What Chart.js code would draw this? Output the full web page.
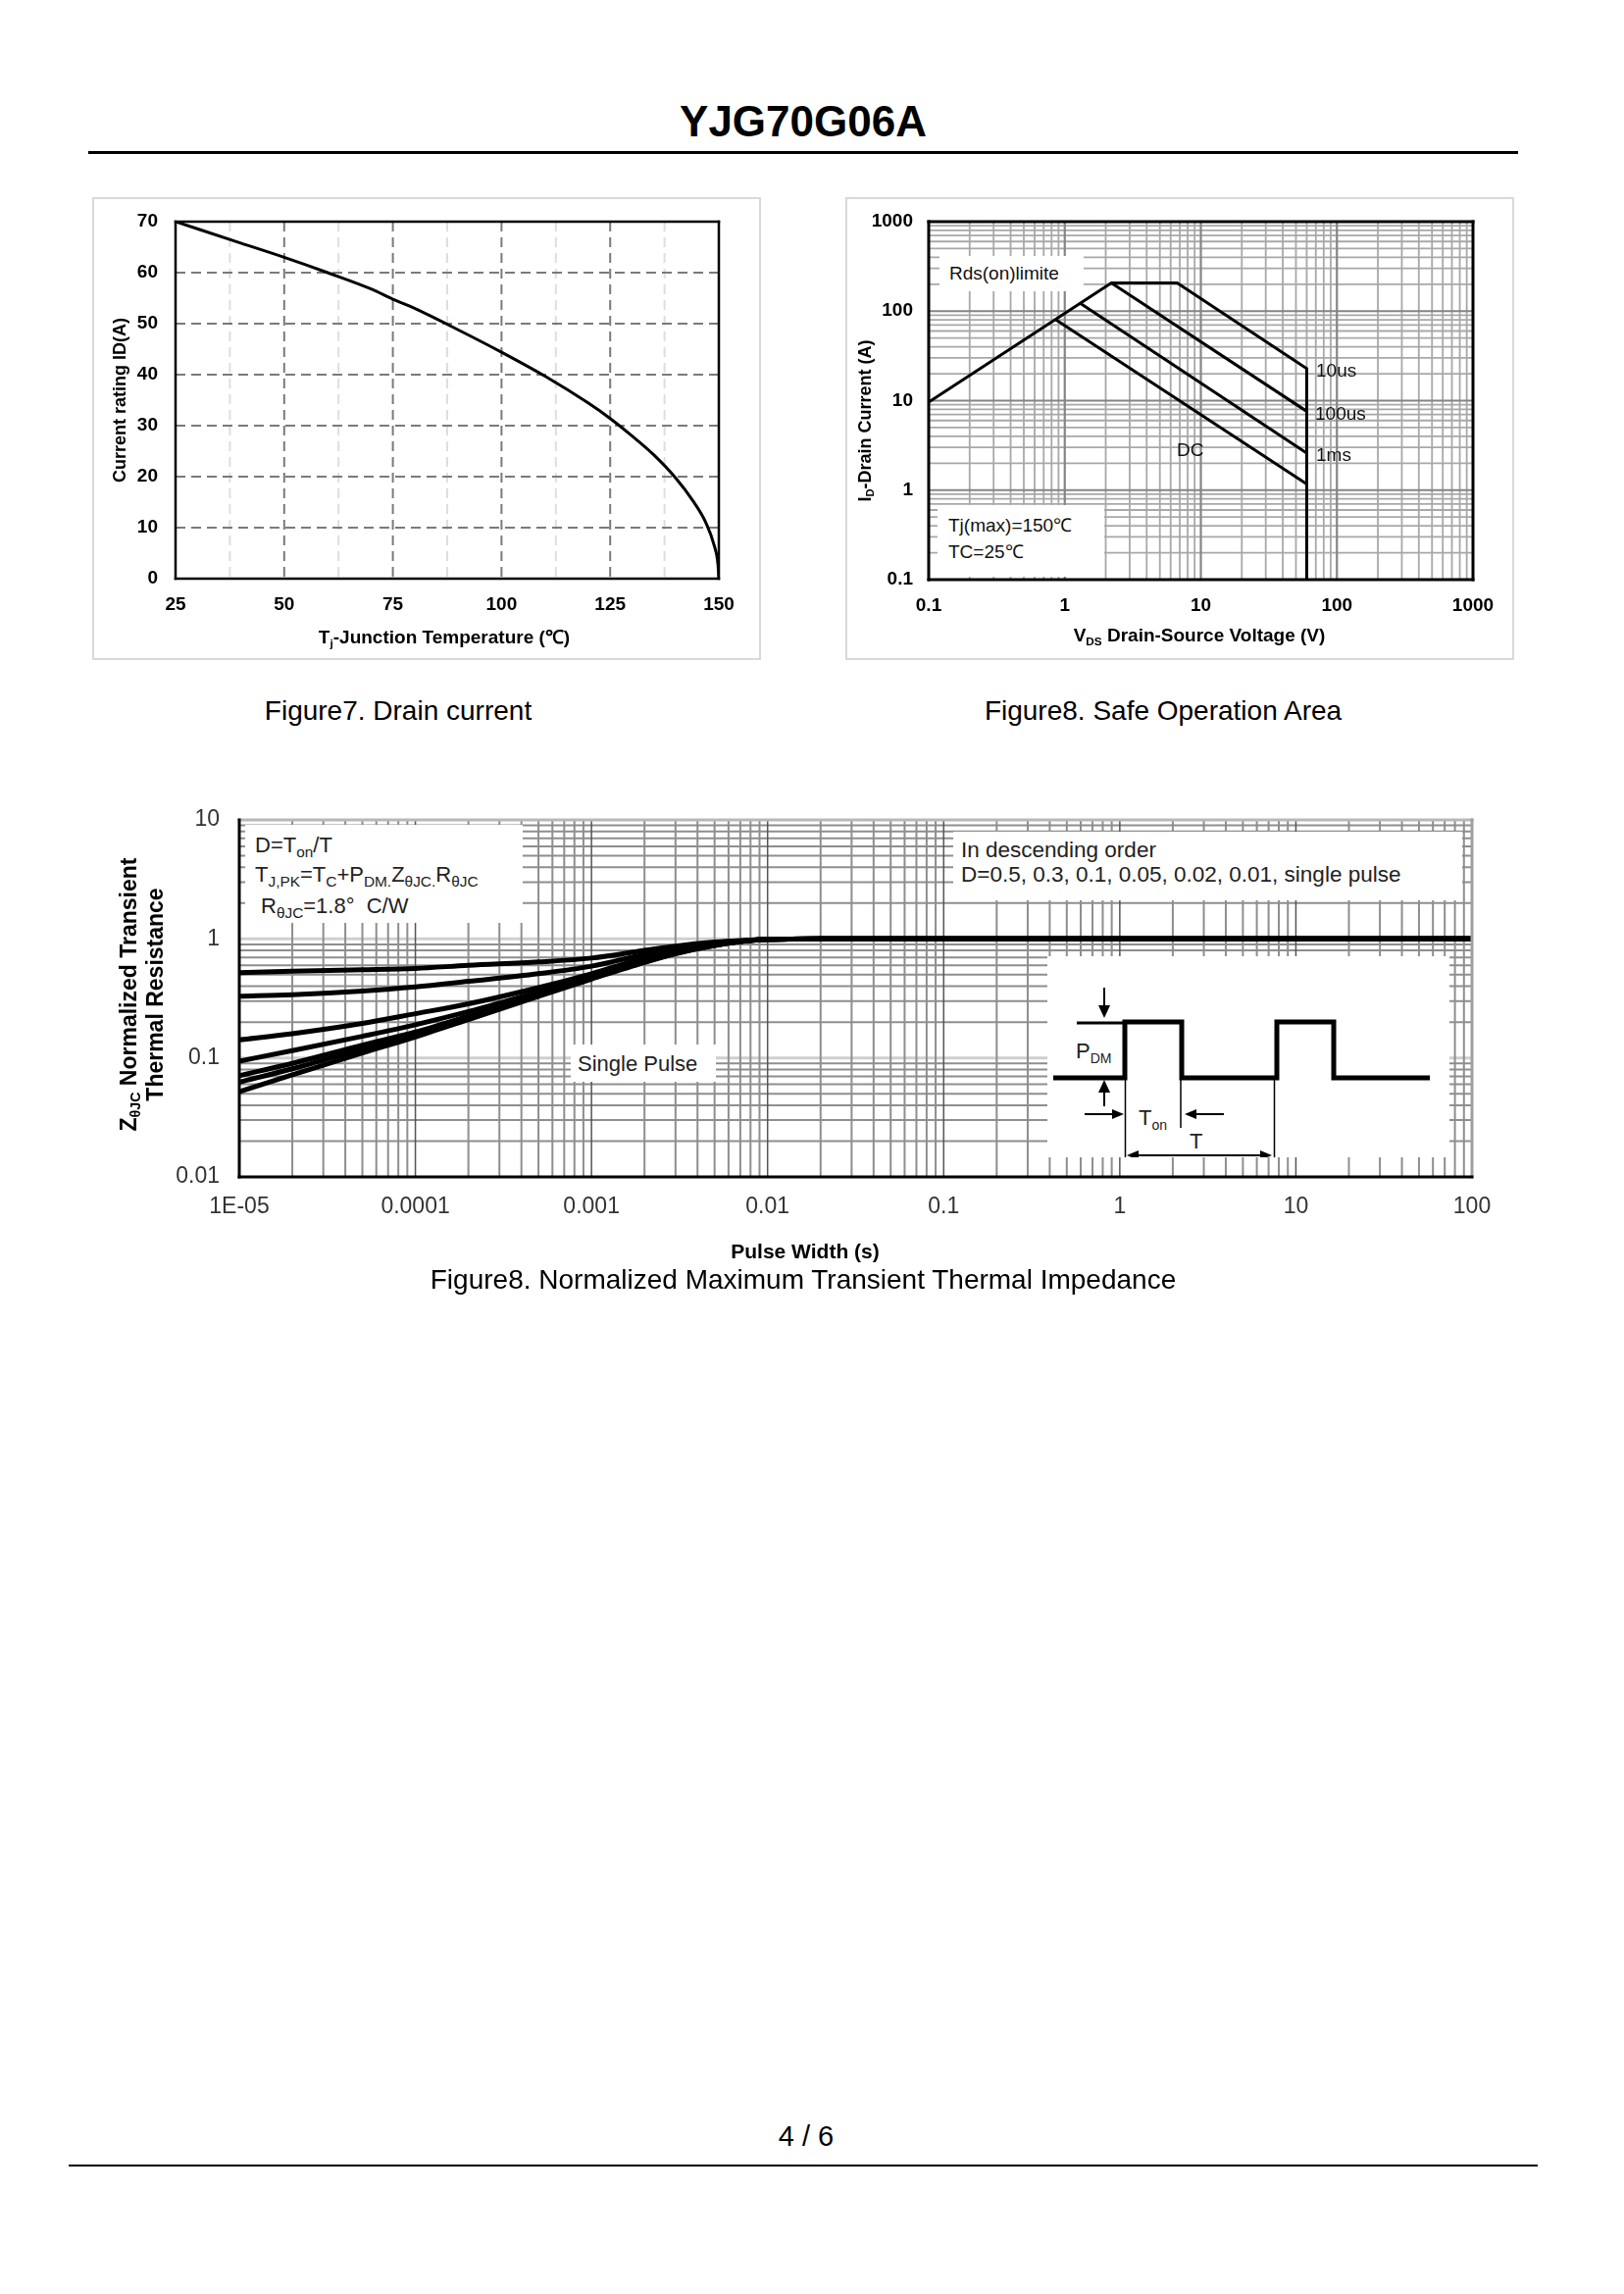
<!DOCTYPE html>
<html><head><meta charset="utf-8">
<script src="https://cdn.jsdelivr.net/npm/chart.js@4.4.1/dist/chart.umd.min.js"></script>
<style>
html,body{margin:0;padding:0;background:#fff;}
body{width:1656px;height:2339px;position:relative;overflow:hidden;font-family:"Liberation Sans",Arial,Helvetica,sans-serif;color:#000;}
.a{position:absolute;white-space:nowrap;}
.c{text-align:center;}
sub{font-size:0.62em;vertical-align:baseline;position:relative;top:0.3em;line-height:0;}
.th sub{font-size:0.7em;}
.box{position:absolute;background:#fff;}
.fig{position:absolute;border:2px solid #d9d9d9;box-sizing:border-box;}
canvas{position:absolute;}
</style></head>
<body>
<!-- header -->
<div class="a c" style="left:569px;width:500px;top:98px;line-height:52px;font-size:44px;font-weight:bold;">YJG70G06A</div>
<div class="a" style="left:90px;top:154px;width:1458px;height:3px;background:#000;"></div>

<!-- Figure 7 -->
<div class="fig" style="left:94px;top:201px;width:682px;height:472px;"></div>
<canvas id="c7" width="678" height="468" style="left:96px;top:203px;width:678px;height:468px;"></canvas>
<div class="a c" style="left:253px;width:400px;top:638px;line-height:24px;font-size:19px;font-weight:bold;">T<sub>j</sub>-Junction Temperature (℃)</div>
<div class="a c" style="left:-28px;width:300px;top:396px;line-height:24px;font-size:18px;font-weight:bold;transform:rotate(-90deg);">Current rating ID(A)</div>
<div class="a c" style="left:206px;width:400px;top:709px;line-height:32px;font-size:28px;">Figure7. Drain current</div>

<!-- Figure 8 SOA -->
<div class="fig" style="left:862px;top:201px;width:682px;height:472px;"></div>
<canvas id="c8" width="678" height="468" style="left:864px;top:203px;width:678px;height:468px;"></canvas>
<div class="box" style="left:958px;top:261px;width:147px;height:36px;"></div>
<div class="a" style="left:968px;top:268px;line-height:22px;font-size:19px;color:#111;">Rds(on)limite</div>
<div class="box" style="left:956px;top:515px;width:170px;height:73px;"></div>
<div class="a" style="left:967px;top:525px;line-height:22px;font-size:19px;color:#111;">Tj(max)=150℃</div>
<div class="a" style="left:967px;top:552px;line-height:22px;font-size:19px;color:#111;">TC=25℃</div>
<div class="a" style="left:1342px;top:367px;line-height:22px;font-size:19px;color:#111;">10us</div>
<div class="a" style="left:1341px;top:411px;line-height:22px;font-size:19px;color:#111;">100us</div>
<div class="a" style="left:1342px;top:453px;line-height:22px;font-size:19px;color:#111;">1ms</div>
<div class="a" style="left:1200px;top:448px;line-height:22px;font-size:19px;color:#111;">DC</div>
<div class="a c" style="left:1023px;width:400px;top:636px;line-height:24px;font-size:19px;font-weight:bold;">V<sub>DS</sub> Drain-Source Voltage (V)</div>
<div class="a c" style="left:732px;width:300px;top:417px;line-height:24px;font-size:18px;font-weight:bold;transform:rotate(-90deg);">I<sub>D</sub>-Drain Current (A)</div>
<div class="a c" style="left:986px;width:400px;top:709px;line-height:32px;font-size:28px;">Figure8. Safe Operation Area</div>

<!-- Figure 9 thermal -->
<canvas id="c9" width="1440" height="480" style="left:100px;top:810px;width:1440px;height:480px;"></canvas>
<div class="box" style="left:250px;top:841px;width:283px;height:100px;"></div>
<div class="a th" style="left:260px;top:849px;line-height:26px;font-size:22px;color:#222;">D=T<sub>on</sub>/T</div>
<div class="a th" style="left:260px;top:879px;line-height:26px;font-size:22px;color:#222;">T<sub>J,PK</sub>=T<sub>C</sub>+P<sub>DM.</sub>Z<sub>θJC.</sub>R<sub>θJC</sub></div>
<div class="a th" style="left:266px;top:911px;line-height:26px;font-size:22px;color:#222;">R<sub>θJC</sub>=1.8°&nbsp; C/W</div>
<div class="box" style="left:972px;top:848px;width:519px;height:70px;"></div>
<div class="a" style="left:980px;top:854px;line-height:26px;font-size:22.5px;color:#222;">In descending order</div>
<div class="a" style="left:980px;top:879px;line-height:26px;font-size:22.5px;color:#222;">D=0.5, 0.3, 0.1, 0.05, 0.02, 0.01, single pulse</div>
<div class="box" style="left:582px;top:1065px;width:148px;height:38px;"></div>
<div class="a" style="left:589px;top:1072px;line-height:26px;font-size:22px;color:#222;">Single Pulse</div>
<svg class="a" style="left:1068px;top:975px;" width="410" height="205" viewBox="0 0 410 205">
  <rect x="0" y="0" width="410" height="205" fill="#fff"/>
  <path d="M6,124 H79 V67 H137 V124 H234 V67 H292 V124 H390" fill="none" stroke="#000" stroke-width="5"/>
  <path d="M30,68 H79" stroke="#000" stroke-width="3"/>
  <path d="M58,32 V56" stroke="#000" stroke-width="2"/>
  <polygon points="52,50 64,50 58,63" fill="#000"/>
  <path d="M58,153 V133" stroke="#000" stroke-width="2"/>
  <polygon points="52,139 64,139 58,126" fill="#000"/>
  <path d="M79.5,124 V221 M136,124 V175 M231.5,124 V218" stroke="#000" stroke-width="1.5"/>
  <path d="M38,161 H70" stroke="#000" stroke-width="2"/>
  <polygon points="66,156 66,166 78,161" fill="#000"/>
  <path d="M180,161 H148" stroke="#000" stroke-width="2"/>
  <polygon points="152,156 152,166 140,161" fill="#000"/>
  <path d="M92,203 H218" stroke="#000" stroke-width="2"/>
  <polygon points="93,198 93,208 81,203" fill="#000"/>
  <polygon points="217,198 217,208 229,203" fill="#000"/>
  <text x="29" y="104" font-family="Liberation Sans, Arial, sans-serif" font-size="22" fill="#222">P<tspan font-size="14" dy="5">DM</tspan></text>
  <text x="93" y="172" font-family="Liberation Sans, Arial, sans-serif" font-size="22" fill="#222">T<tspan font-size="14" dy="5">on</tspan></text>
  <text x="145" y="196" font-family="Liberation Sans, Arial, sans-serif" font-size="22" fill="#222">T</text>
</svg>
<div class="a c" style="left:-55px;width:400px;top:987px;line-height:27px;font-size:23px;font-weight:bold;transform:rotate(-90deg);">Z<sub>θJC</sub> Normalized Transient<br>Thermal Resistance</div>
<div class="a c" style="left:621px;width:400px;top:1263px;line-height:26px;font-size:21px;font-weight:bold;">Pulse Width (s)</div>
<div class="a c" style="left:219px;width:1200px;top:1289px;line-height:32px;font-size:28px;">Figure8. Normalized Maximum Transient Thermal Impedance</div>

<!-- footer -->
<div class="a c" style="left:722px;width:200px;top:2162px;line-height:32px;font-size:29px;">4 / 6</div>
<div class="a" style="left:70px;top:2207px;width:1498px;height:2px;background:#000;"></div>

<script>
// ---------- Figure 7 data ----------
const fig7Temp    = [25, 30, 40, 50, 60, 70, 75, 80, 90, 100, 110, 120, 125, 130, 135, 140, 144, 147, 149, 149.8, 150];
const fig7Current = [70, 68.6, 65.8, 63.0, 60.0, 56.8, 54.8, 53.0, 48.8, 44.4, 39.7, 34.4, 31.4, 28.0, 24.3, 19.8, 15.3, 11.0, 6.3, 2.8, 0];
const fig7XTicks = [25, 50, 75, 100, 125, 150];
const fig7XTickLabels = ['25', '50', '75', '100', '125', '150'];
const fig7YTicks = [0, 10, 20, 30, 40, 50, 60, 70];
const fig7YTickLabels = ['0', '10', '20', '30', '40', '50', '60', '70'];

// ---------- Figure 8 (SOA) data ----------
const soaLimitV = [0.1, 2.2, 6.7, 60, 60];      // Rds(on) limit + 10us + Vds max
const soaLimitI = [9.6, 207, 207, 22.8, 0.1];
const soa100usV = [2.2, 60];
const soa100usI = [207, 7.6];
const soa1msV = [1.3, 60];
const soa1msI = [122, 2.6];
const soaDCV = [0.86, 60];
const soaDCI = [80, 1.17];
const soaTicks = [0.1, 1, 10, 100, 1000];
const soaTickLabels = ['0.1', '1', '10', '100', '1000'];

// ---------- Figure 9 (thermal) data ----------
const pulseWidth = [1e-5, 2e-5, 5e-5, 1e-4, 2e-4, 5e-4, 1e-3, 2e-3, 3e-3, 5e-3, 7e-3, 1e-2, 2e-2, 0.1, 1, 10, 100];
const zD050   = [0.52, 0.535, 0.55, 0.565, 0.60, 0.64, 0.69, 0.80, 0.87, 0.94, 0.97, 0.99, 1, 1, 1, 1, 1];
const zD030   = [0.33, 0.34, 0.365, 0.395, 0.44, 0.51, 0.59, 0.74, 0.83, 0.92, 0.96, 0.99, 1, 1, 1, 1, 1];
const zD010   = [0.142, 0.16, 0.195, 0.235, 0.285, 0.39, 0.51, 0.69, 0.79, 0.90, 0.955, 0.99, 1, 1, 1, 1, 1];
const zD005   = [0.094, 0.115, 0.152, 0.19, 0.245, 0.36, 0.49, 0.66, 0.77, 0.89, 0.95, 0.99, 1, 1, 1, 1, 1];
const zD002   = [0.071, 0.09, 0.128, 0.165, 0.225, 0.345, 0.475, 0.645, 0.76, 0.885, 0.95, 0.99, 1, 1, 1, 1, 1];
const zD001   = [0.0625, 0.081, 0.119, 0.158, 0.218, 0.34, 0.47, 0.64, 0.755, 0.88, 0.95, 0.99, 1, 1, 1, 1, 1];
const zSingle = [0.052, 0.072, 0.11, 0.15, 0.21, 0.33, 0.46, 0.635, 0.75, 0.88, 0.95, 0.99, 1, 1, 1, 1, 1];
const thermXTicks = [1e-5, 1e-4, 1e-3, 1e-2, 0.1, 1, 10, 100];
const thermXTickLabels = ['1E-05', '0.0001', '0.001', '0.01', '0.1', '1', '10', '100'];
const thermYTicks = [0.01, 0.1, 1, 10];
const thermYTickLabels = ['0.01', '0.1', '1', '10'];

// ---------- helpers ----------
const FONT = '"Liberation Sans", Arial, Helvetica, sans-serif';
Chart.defaults.font.family = FONT;
function pts(xs, ys) { return xs.map((x, i) => ({ x: x, y: ys[i] })); }
function logGrid(minExp, maxExp) {
  const major = [], minor = [];
  for (let e = minExp; e < maxExp; e++) {
    if (e > minExp) major.push(Number('1e' + e));
    for (let s = 2; s <= 9; s++) minor.push(Number(s + 'e' + e));
  }
  return { major, minor };
}
function gridPlugin(cfg) {
  return {
    id: 'customGrid',
    beforeDatasetsDraw(chart) {
      const ctx = chart.ctx, a = chart.chartArea;
      ctx.save();
      ctx.beginPath(); ctx.rect(a.left, a.top, a.right - a.left, a.bottom - a.top); ctx.clip();
      for (const g of cfg.lines) {
        const sc = chart.scales[g.axis];
        ctx.strokeStyle = g.color; ctx.lineWidth = g.width; ctx.setLineDash(g.dash || []);
        for (const v of g.values) {
          const p = sc.getPixelForValue(v);
          ctx.beginPath();
          if (g.axis === 'x') { ctx.moveTo(p, a.top); ctx.lineTo(p, a.bottom); }
          else { ctx.moveTo(a.left, p); ctx.lineTo(a.right, p); }
          ctx.stroke();
        }
      }
      ctx.restore();
    },
    afterDatasetsDraw(chart) {
      const ctx = chart.ctx, a = chart.chartArea;
      ctx.save(); ctx.setLineDash([]);
      for (const f of cfg.frame) {
        ctx.strokeStyle = f.color; ctx.lineWidth = f.width;
        const h = f.width / 2;
        ctx.beginPath();
        if (f.side === 'top') { ctx.moveTo(a.left - h, a.top); ctx.lineTo(a.right + h, a.top); }
        if (f.side === 'bottom') { ctx.moveTo(a.left - h, a.bottom); ctx.lineTo(a.right + h, a.bottom); }
        if (f.side === 'left') { ctx.moveTo(a.left, a.top - h); ctx.lineTo(a.left, a.bottom + h); }
        if (f.side === 'right') { ctx.moveTo(a.right, a.top - h); ctx.lineTo(a.right, a.bottom + h); }
        ctx.stroke();
      }
      ctx.restore();
    }
  };
}
function axis(type, min, max, tickVals, tickLabels, font, color, padding, size, isX) {
  return {
    type: type, min: min, max: max,
    grid: { display: false, drawTicks: false, tickLength: 0 }, border: { display: false },
    afterBuildTicks: s => { s.ticks = tickVals.map(v => ({ value: v })); },
    afterFit: s => {
      if (isX) { s.height = size; } else { s.width = size; }
      s.paddingTop = 0; s.paddingBottom = 0; s.paddingLeft = 0; s.paddingRight = 0;
    },
    ticks: { autoSkip: false, maxRotation: 0, minRotation: 0, padding: padding, color: color, font: font,
             callback: (v, i) => tickLabels[i] }
  };
}
const baseOpts = { responsive: false, animation: false, events: [],
  plugins: { legend: { display: false }, tooltip: { enabled: false } } };
function ds(data, width, extra) {
  return Object.assign({ data: data, showLine: true, borderColor: '#000', borderWidth: width,
    pointRadius: 0, fill: false, tension: 0 }, extra || {});
}

// ---------- Figure 7 ----------
new Chart(document.getElementById('c7'), {
  type: 'scatter',
  data: { datasets: [ds(pts(fig7Temp, fig7Current), 3, { cubicInterpolationMode: 'monotone' })] },
  options: Object.assign({}, baseOpts, {
    layout: { padding: { left: 0, right: 41, top: 23, bottom: 0 } },
    scales: {
      x: axis('linear', 25, 150, fig7XTicks, fig7XTickLabels, { size: 19, weight: 'bold' }, '#000', 15, 81, true),
      y: axis('linear', 0, 70, fig7YTicks, fig7YTickLabels, { size: 19, weight: 'bold' }, '#000', 18, 83, false)
    }
  }),
  plugins: [gridPlugin({
    lines: [
      { axis: 'x', values: [37.5, 62.5, 87.5, 112.5, 137.5], color: '#dedede', width: 2, dash: [10, 6] },
      { axis: 'x', values: [50, 75, 100, 125], color: '#7a7a7a', width: 2, dash: [10, 6] },
      { axis: 'y', values: [10, 20, 30, 40, 50, 60], color: '#7a7a7a', width: 2, dash: [10, 6] }
    ],
    frame: [
      { side: 'top', color: '#000', width: 2.5 }, { side: 'bottom', color: '#000', width: 2.5 },
      { side: 'left', color: '#000', width: 2.5 }, { side: 'right', color: '#000', width: 2.5 }
    ]
  })]
});

// ---------- Figure 8 SOA ----------
const soaG = logGrid(-1, 3);
new Chart(document.getElementById('c8'), {
  type: 'scatter',
  data: { datasets: [
    ds(pts(soaLimitV, soaLimitI), 3),
    ds(pts(soa100usV, soa100usI), 3),
    ds(pts(soa1msV, soa1msI), 3),
    ds(pts(soaDCV, soaDCI), 3)
  ] },
  options: Object.assign({}, baseOpts, {
    layout: { padding: { left: 0, right: 40, top: 23, bottom: 0 } },
    scales: {
      x: axis('logarithmic', 0.1, 1000, soaTicks, soaTickLabels, { size: 19, weight: 'bold' }, '#000', 15, 80, true),
      y: axis('logarithmic', 0.1, 1000, soaTicks, soaTickLabels, { size: 19, weight: 'bold' }, '#000', 16, 83, false)
    }
  }),
  plugins: [gridPlugin({
    lines: [
      { axis: 'x', values: soaG.minor, color: '#a8a8a8', width: 1.8 },
      { axis: 'y', values: soaG.minor, color: '#a8a8a8', width: 1.8 },
      { axis: 'x', values: soaG.major, color: '#858585', width: 2.2 },
      { axis: 'y', values: soaG.major, color: '#858585', width: 2.2 }
    ],
    frame: [
      { side: 'top', color: '#000', width: 3 }, { side: 'bottom', color: '#000', width: 3 },
      { side: 'left', color: '#000', width: 3 }, { side: 'right', color: '#000', width: 3 }
    ]
  })]
});

// ---------- Figure 9 thermal ----------
const thX = logGrid(-5, 2), thY = logGrid(-2, 1);
const thermSeries = [zD050, zD030, zD010, zD005, zD002, zD001, zSingle];
new Chart(document.getElementById('c9'), {
  type: 'scatter',
  data: { datasets: thermSeries.map(s => ds(pts(pulseWidth, s), 5, { cubicInterpolationMode: 'monotone' })) },
  options: Object.assign({}, baseOpts, {
    layout: { padding: { left: 0, right: 39, top: 26, bottom: 0 } },
    scales: {
      x: axis('logarithmic', 1e-5, 100, thermXTicks, thermXTickLabels, { size: 23 }, '#333', 17, 90, true),
      y: axis('logarithmic', 0.01, 10, thermYTicks, thermYTickLabels, { size: 23 }, '#333', 20, 144, false)
    }
  }),
  plugins: [gridPlugin({
    lines: [
      { axis: 'y', values: thY.major, color: '#cfcfcf', width: 3 },
      { axis: 'x', values: thX.minor, color: '#8e8e8e', width: 2 },
      { axis: 'y', values: thY.minor, color: '#8e8e8e', width: 2 },
      { axis: 'x', values: thX.major, color: '#555', width: 1.5 }
    ],
    frame: [
      { side: 'top', color: '#b8b8b8', width: 3 }, { side: 'right', color: '#a0a0a0', width: 3 },
      { side: 'left', color: '#000', width: 3 }, { side: 'bottom', color: '#000', width: 3 }
    ]
  })]
});
</script>
</body></html>
